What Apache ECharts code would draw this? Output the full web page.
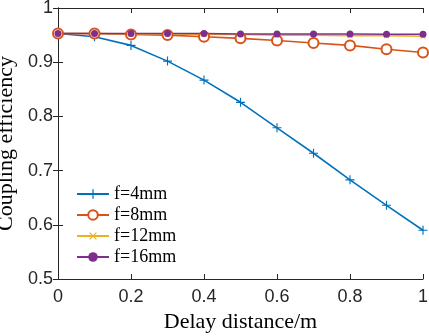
<!DOCTYPE html>
<html lang="en" style="height: 100%">
<head>
  <meta charset="utf-8">
  <script type="text/javascript" src="https://cdn.jsdelivr.net/npm/echarts@6/dist/echarts.min.js"></script>
</head>
<body style="height: 100%; margin: 0; background: #fff">
  <div id="chart" style="height: 336px; width: 429px"></div>
  <script type="text/javascript">
    var xs = [0, 0.1, 0.2, 0.3, 0.4, 0.5, 0.6, 0.7, 0.8, 0.9, 1];
    var names = ['f=4mm', 'f=8mm', 'f=12mm', 'f=16mm'];
    var f4 = [0.953, 0.947, 0.931, 0.902, 0.867, 0.826, 0.779, 0.732, 0.683, 0.636, 0.590];
    var f8 = [0.953, 0.953, 0.951, 0.950, 0.947, 0.944, 0.940, 0.9355, 0.931, 0.924, 0.918];
    var f12 = [0.953, 0.953, 0.952, 0.952, 0.951, 0.951, 0.950, 0.950, 0.949, 0.949, 0.948];
    var f16 = [0.953, 0.953, 0.953, 0.953, 0.953, 0.952, 0.952, 0.952, 0.952, 0.9515, 0.9515];
    var colors = ['#0072BD', '#D95319', '#EDB120', '#7E2F8E'];

    var plus = 'path://M-0.9,-7 L0.9,-7 L0.9,-0.9 L7,-0.9 L7,0.9 L0.9,0.9 L0.9,7 L-0.9,7 L-0.9,0.9 L-7,0.9 L-7,-0.9 L-0.9,-0.9 Z';

    function pairs(ys) {
      return xs.map(function (x, i) { return [x, ys[i]]; });
    }

    var chart = echarts.init(document.getElementById('chart'));
    var axisLine = { show: true, lineStyle: { color: '#262626', width: 1 } };
    var option = {
      animation: false,
      color: colors,
      grid: { left: 58, right: 6, top: 8, bottom: 57, outerBoundsMode: 'none', containLabel: false },
      legend: {
        orient: 'vertical',
        left: 71,
        top: 180,
        itemWidth: 32,
        itemHeight: 12,
        itemGap: 3,
        textStyle: { fontFamily: 'Liberation Serif', fontSize: 18, color: '#000', lineHeight: 17 },
        data: names
      },
      xAxis: [{
        type: 'value', min: 0, max: 1, interval: 0.2,
        name: 'Delay distance/m', nameLocation: 'middle', nameGap: 31,
        nameTextStyle: { fontFamily: 'Liberation Serif', fontSize: 22, color: '#000' },
        axisLine: axisLine,
        axisTick: { inside: true, length: 5, lineStyle: { color: '#262626' } },
        axisLabel: { fontFamily: 'Liberation Sans', fontSize: 18, color: '#262626', margin: 9,
          formatter: function (v) { return String(+v.toFixed(1)); } },
        splitLine: { show: false }
      }, {
        type: 'value', min: 0, max: 1, interval: 0.2, position: 'top',
        axisLine: axisLine,
        axisTick: { inside: true, length: 5, lineStyle: { color: '#262626' } },
        axisLabel: { show: false }, splitLine: { show: false }
      }],
      yAxis: [{
        type: 'value', min: 0.5, max: 1, interval: 0.1,
        name: 'Coupling efficiency', nameLocation: 'middle', nameGap: 30,
        nameTextStyle: { fontFamily: 'Liberation Serif', fontSize: 22, color: '#000' },
        axisLine: axisLine,
        axisTick: { inside: true, length: 5, lineStyle: { color: '#262626' } },
        axisLabel: { fontFamily: 'Liberation Sans', fontSize: 18, color: '#262626', margin: 5,
          formatter: function (v) { return String(+v.toFixed(1)); } },
        splitLine: { show: false }
      }, {
        type: 'value', min: 0.5, max: 1, interval: 0.1, position: 'right',
        axisLine: axisLine,
        axisTick: { inside: true, length: 5, lineStyle: { color: '#262626' } },
        axisLabel: { show: false }, splitLine: { show: false }
      }],
      series: [
        { name: names[0], type: 'line', data: pairs(f4), symbol: plus, symbolSize: 9,
          lineStyle: { width: 1.6 }, itemStyle: { color: colors[0] } },
        { name: names[1], type: 'line', data: pairs(f8), symbol: 'emptyCircle', symbolSize: 10,
          lineStyle: { width: 1.6 }, itemStyle: { color: colors[1], borderWidth: 1.5 } },
        { name: names[2], type: 'line', data: pairs(f12), symbol: plus, symbolRotate: 45, symbolSize: 7,
          lineStyle: { width: 1.6 }, itemStyle: { color: colors[2] } },
        { name: names[3], type: 'line', data: pairs(f16), symbol: 'circle', symbolSize: 7,
          lineStyle: { width: 1.6 }, itemStyle: { color: colors[3] } }
      ]
    };
    chart.setOption(option);
  </script>
</body>
</html>
